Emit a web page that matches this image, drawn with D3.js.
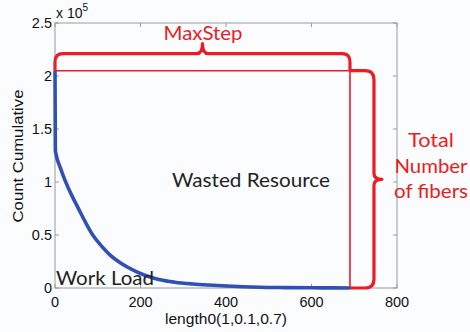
<!DOCTYPE html>
<html>
<head>
<meta charset="utf-8">
<script src="https://cdn.jsdelivr.net/npm/d3@7/dist/d3.min.js"></script>
<style>
  html, body { margin: 0; padding: 0; background: #fbfcfe; }
  svg { display: block; }
  text { font-family: "Liberation Sans", Arial, sans-serif; }
  .note { font-family: Lato, "Open Sans", "Noto Sans", sans-serif; }
</style>
</head>
<body>
<svg id="chart" width="470" height="332"></svg>
<script>
// Fiber length (x) vs cumulative count (in units of 1e5)
const lengths = [0, 0.8, 2, 12, 23, 42, 51, 70, 90, 110, 129, 150, 168, 190, 207, 230, 246, 280, 323, 360, 401, 440, 479, 540, 600, 650, 690];
const counts  = [2.05, 1.30, 1.27, 1.14, 1.02, 0.85, 0.78, 0.63, 0.49, 0.39, 0.31, 0.245, 0.20, 0.155, 0.125, 0.095, 0.078, 0.055, 0.038, 0.028, 0.019, 0.012, 0.007, 0.004, 0.002, 0.001, 0];

const xTicks = [0, 200, 400, 600, 800];
const yTicks = [0, 0.5, 1, 1.5, 2, 2.5];
const yTickLabels = ["0", "0.5", "1", "1.5", "2", "2.5"];

const maxStep = 690;       // longest fiber length
const totalFibers = 2.05;  // count at length 0 (x 1e5)

const svg = d3.select("#chart");
const margin = { left: 55, right: 73, top: 23, bottom: 44 };
const W = 470, H = 332;

const x = d3.scaleLinear().domain([0, 800]).range([margin.left, W - margin.right]);
const y = d3.scaleLinear().domain([0, 2.5]).range([H - margin.bottom, margin.top]);

const grey = "#9a9a9a";
const red = "#ec1c24";
const blue = "#3150b6";

// axes frame
svg.append("rect")
  .attr("x", x(0)).attr("y", y(2.5))
  .attr("width", x(800) - x(0)).attr("height", y(0) - y(2.5))
  .attr("fill", "none").attr("stroke", grey).attr("stroke-width", 1);

// inward ticks on all four sides
const tickLen = 4;
const tickG = svg.append("g").attr("stroke", grey).attr("stroke-width", 1);
xTicks.forEach(t => {
  tickG.append("line").attr("x1", x(t)).attr("x2", x(t)).attr("y1", y(0)).attr("y2", y(0) - tickLen);
  tickG.append("line").attr("x1", x(t)).attr("x2", x(t)).attr("y1", y(2.5)).attr("y2", y(2.5) + tickLen);
});
yTicks.forEach(t => {
  tickG.append("line").attr("x1", x(0)).attr("x2", x(0) + tickLen).attr("y1", y(t)).attr("y2", y(t));
  tickG.append("line").attr("x1", x(800)).attr("x2", x(800) - tickLen).attr("y1", y(t)).attr("y2", y(t));
});

// tick labels
svg.append("g").selectAll("text").data(xTicks).join("text")
  .attr("x", d => x(d)).attr("y", y(0) + 19)
  .attr("text-anchor", "middle").attr("font-size", 14.5).attr("fill", "#111")
  .text(d => d);
svg.append("g").selectAll("text").data(yTicks).join("text")
  .attr("x", x(0) - 3).attr("y", d => y(d) + 5)
  .attr("text-anchor", "end").attr("font-size", 14.5).attr("fill", "#111")
  .text((d, i) => yTickLabels[i]);

// exponent
const expo = svg.append("text").attr("x", x(0) + 1).attr("y", 18).attr("font-size", 14).attr("fill", "#111");
expo.append("tspan").text("x 10");
expo.append("tspan").attr("dy", -7).attr("font-size", 10).text("5");

// axis titles
svg.append("text")
  .attr("x", 226).attr("y", 324)
  .attr("text-anchor", "middle").attr("font-size", 14.5).attr("fill", "#111")
  .attr("textLength", 122).attr("lengthAdjust", "spacingAndGlyphs")
  .text("length0(1,0.1,0.7)");
svg.append("text")
  .attr("transform", "translate(23,156) rotate(-90)")
  .attr("text-anchor", "middle").attr("font-size", 15).attr("fill", "#111")
  .attr("textLength", 133).attr("lengthAdjust", "spacingAndGlyphs")
  .text("Count Cumulative");

// wasted-resource outline: top at total fibers, right side at MaxStep
svg.append("path")
  .attr("d", d3.line()([[x(0), y(totalFibers)], [x(maxStep), y(totalFibers)], [x(maxStep), y(0)]]))
  .attr("fill", "none").attr("stroke", red).attr("stroke-width", 1.6);

// cumulative count curve
const data = lengths.map((l, i) => [l, counts[i]]);
svg.append("path")
  .datum(data)
  .attr("fill", "none").attr("stroke", blue).attr("stroke-width", 3.6)
  .attr("stroke-linejoin", "round")
  .attr("d", d3.line().x(d => x(d[0])).y(d => y(d[1])).curve(d3.curveMonotoneX));

// horizontal brace over the region (MaxStep)
{
  const x0 = x(0), x1 = x(maxStep), yb = y(totalFibers);
  const h = 17, r = 8, tip = 10, xm = (x0 + x1) / 2;
  const yl = yb - h;
  const p = d3.path();
  p.moveTo(x0, yb);
  p.lineTo(x0, yl + r);
  p.quadraticCurveTo(x0, yl, x0 + r, yl);
  p.lineTo(xm - 6, yl);
  p.quadraticCurveTo(xm, yl, xm, yl - tip);
  p.quadraticCurveTo(xm, yl, xm + 6, yl);
  p.lineTo(x1 - r, yl);
  p.quadraticCurveTo(x1, yl, x1, yl + r);
  p.lineTo(x1, yb);
  svg.append("path").attr("d", p.toString())
    .attr("fill", "none").attr("stroke", red).attr("stroke-width", 3.2).attr("stroke-linejoin", "round");
}

// vertical brace beside the region (total number of fibers)
{
  const xs = x(maxStep), yt = y(totalFibers), yb = y(0);
  const w = 24, r = 9, tip = 8, ym = (yt + yb) / 2;
  const xl = xs + w;
  const p = d3.path();
  p.moveTo(xs, yt);
  p.lineTo(xl - r, yt);
  p.quadraticCurveTo(xl, yt, xl, yt + r);
  p.lineTo(xl, ym - 6);
  p.quadraticCurveTo(xl, ym, xl + tip, ym);
  p.quadraticCurveTo(xl, ym, xl, ym + 6);
  p.lineTo(xl, yb - r);
  p.quadraticCurveTo(xl, yb, xl - r, yb);
  p.lineTo(xs, yb);
  svg.append("path").attr("d", p.toString())
    .attr("fill", "none").attr("stroke", red).attr("stroke-width", 3.2).attr("stroke-linejoin", "round");
}

// annotations
svg.append("text").attr("class", "note")
  .attr("x", 203).attr("y", 40).attr("text-anchor", "middle")
  .attr("font-size", 19).attr("fill", red)
  .attr("textLength", 79).attr("lengthAdjust", "spacingAndGlyphs")
  .text("MaxStep");
svg.append("text").attr("class", "note")
  .attr("x", 251).attr("y", 187).attr("text-anchor", "middle")
  .attr("font-size", 20).attr("fill", "#222")
  .attr("textLength", 158).attr("lengthAdjust", "spacingAndGlyphs")
  .text("Wasted Resource");
svg.append("text").attr("class", "note")
  .attr("x", 56).attr("y", 285)
  .attr("font-size", 20).attr("fill", "#222")
  .attr("textLength", 98).attr("lengthAdjust", "spacingAndGlyphs")
  .text("Work Load");

const noteLines = [["Total", 147, 46], ["Number", 173, 73], ["of fibers", 198, 74]];
svg.append("g").selectAll("text").data(noteLines).join("text")
  .attr("class", "note")
  .attr("x", 431).attr("y", d => d[1]).attr("text-anchor", "middle")
  .attr("font-size", 19.5).attr("fill", red)
  .attr("textLength", d => d[2]).attr("lengthAdjust", "spacingAndGlyphs")
  .text(d => d[0]);
</script>
</body>
</html>
